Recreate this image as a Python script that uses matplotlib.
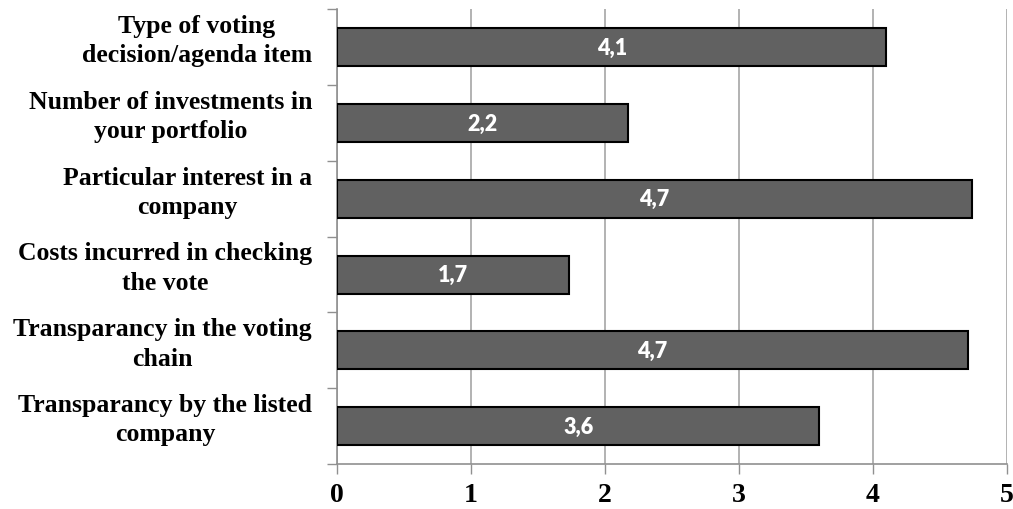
import matplotlib
matplotlib.use('Agg')
import matplotlib.pyplot as plt
import matplotlib.transforms as mtransforms
import numpy as np

# survey factors, top to bottom
factors = ['Type of voting\ndecision/agenda item',
           'Number of investments in\nyour portfolio',
           'Particular interest in a\ncompany',
           'Costs incurred in checking\nthe vote',
           'Transparancy in the voting\nchain',
           'Transparancy by the listed\ncompany']
scores = [4.10, 2.17, 4.74, 1.73, 4.71, 3.60]
xticks = [0, 1, 2, 3, 4, 5]

fig = plt.figure(figsize=(10.13, 5.10), dpi=100)
ax = fig.add_axes([0.3327, 0.088, 0.6613, 0.892])

pos = np.arange(len(factors))
bars = ax.barh(pos, scores, height=0.5, color='#616161',
               edgecolor='black', linewidth=1.5, zorder=3)

for b, v in zip(bars, scores):
    lbl = ('%.1f' % v).replace('.', ',')
    ax.text(b.get_width() / 2, b.get_y() + b.get_height() / 2, lbl,
            ha='center', va='center', color='white', fontsize=15.5,
            fontweight='heavy', family='Lato', zorder=4)

ax.set_xlim(0, 5)
ax.set_ylim(len(factors) - 0.5, -0.5)
ax.set_xticks(xticks)
ax.set_xticklabels([str(t) for t in xticks], family='Liberation Serif',
                   fontweight='bold', fontsize=20)

# category names drawn as text, a bit left of the axis and slightly raised
ax.set_yticks([])
shift = mtransforms.ScaledTranslation(-18 / 72, 5 / 72, fig.dpi_scale_trans)
trans = ax.get_yaxis_transform() + shift
for p, name in zip(pos, factors):
    ax.text(0, p, name, transform=trans, ha='right', va='center',
            multialignment='center', family='Liberation Serif',
            fontweight='bold', fontsize=18.5, linespacing=1.35)

ax.set_yticks(np.arange(len(factors) + 1) - 0.5, minor=True)
ax.tick_params(axis='y', which='minor', length=7, color='#909090', width=1)
ax.tick_params(axis='x', length=7, color='#909090', width=1, pad=6)

ax.grid(axis='x', color='#a6a6a6', linewidth=1.2, zorder=0)
for s in ['top', 'right']:
    ax.spines[s].set_visible(False)
for s in ['left', 'bottom']:
    ax.spines[s].set_color('#909090')
    ax.spines[s].set_linewidth(1.2)

fig.savefig('out.png', dpi=100)
